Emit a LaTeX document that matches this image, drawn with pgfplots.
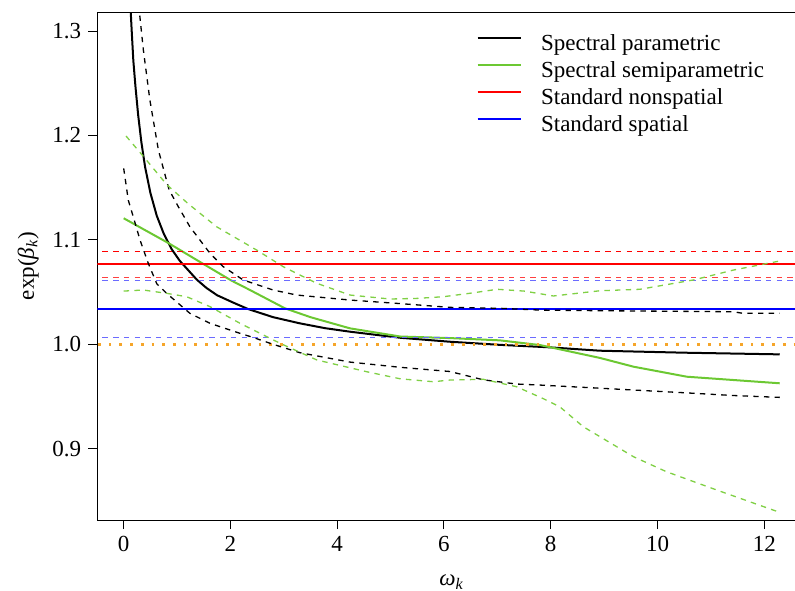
\documentclass[border=0pt]{standalone}
\usepackage{fontspec}
\setmainfont{Liberation Serif}
\usepackage{pgfplots}
\pgfplotsset{compat=1.18}
\usetikzlibrary{calc}
\definecolor{sgreen}{HTML}{6CC832}
\definecolor{lgreen}{HTML}{80D045}
\definecolor{lblue}{HTML}{6B6BFF}
\definecolor{rorange}{HTML}{F5A52A}

\begin{document}
\begin{tikzpicture}
\begin{axis}[
  scale only axis,
  width=348.85pt, height=254pt,
  xmin=-0.4946, xmax=12.576,
  ymin=0.8318, ymax=1.3182,
  axis x line*=box, axis y line*=left,
  axis line style={line width=0.5pt},
  xtick={0,2,4,6,8,10,12},
  ytick={0.9,1.0,1.1,1.2,1.3},
  xtick pos=left, ytick pos=left,
  tick align=outside,
  major tick length=4.5pt,
  tick style={black, line width=0.5pt},
  font=\fontsize{11.5}{13.5}\selectfont,
  /pgf/number format/assume math mode=true,
  yticklabel style={/pgf/number format/.cd, fixed, fixed zerofill, precision=1},
  xlabel={\textit{ω}\textsubscript{\textit{k}}},
  ylabel={exp(\textit{β}\textsubscript{\textit{k}})},
  xlabel style={at={(rel axis cs:0.508,-0.1293)}, anchor=base},
  ylabel style={at={(rel axis cs:-0.099,0.5)}, anchor=center},
  legend style={draw=none, fill=none, at={(rel axis cs:0.5432,0.9626)},
    anchor=north west, inner sep=0pt, row sep=0pt,
    nodes={inner sep=0pt, text height=9.5pt, text depth=4pt},
    /tikz/every odd column/.append style={column sep=9.7pt},
    font=\fontsize{11.5}{13.5}\selectfont},
  legend cell align=left,
  legend image code/.code={\draw[#1] (0pt,3.5pt) -- (21.5pt,3.5pt);},
]
% solid estimates
\addplot[black, line width=1pt] coordinates {
 (0.12,1.330) (0.15,1.300) (0.18,1.272) (0.22,1.247) (0.27,1.220)
 (0.33,1.194) (0.40,1.170) (0.50,1.145) (0.62,1.123) (0.75,1.106)
 (0.90,1.091) (1.05,1.080) (1.2,1.0715) (1.368,1.062) (1.55,1.054)
 (1.75,1.047) (2.05,1.040) (2.33,1.0338) (2.8,1.026) (3.30,1.0201)
 (3.77,1.0155) (4.24,1.0121) (5.18,1.0063) (6.11,1.0025) (7.05,0.9995)
 (7.99,0.9971) (8.92,0.9939) (10.5,0.992) (12.29,0.9904)};
\addlegendentry{Spectral parametric}
\addplot[sgreen, line width=1pt] coordinates {
 (0,1.1207) (0.836,1.097) (1.504,1.0766) (2.02,1.061) (2.366,1.052)
 (3.02,1.0345) (3.5,1.026) (4.24,1.0153) (5.18,1.0075) (6.11,1.0060)
 (7.05,1.0038) (7.8,0.9993) (8.92,0.9870) (9.55,0.9786) (10.55,0.969)
 (12.29,0.9627)};
\addlegendentry{Spectral semiparametric}
\addplot[red, line width=1pt] coordinates {(-1,1.0766) (13,1.0766)};
\addlegendentry{Standard nonspatial}
\addplot[blue, line width=1pt] coordinates {(-1,1.0338) (13,1.0338)};
\addlegendentry{Standard spatial}
% intervals
\addplot[red, line width=0.65pt, dash pattern=on 2.7pt off 2.65pt, forget plot]
  coordinates {(-1,1.0891) (13,1.0891)};
\addplot[red!75, line width=0.65pt, dash pattern=on 2.7pt off 2.65pt, forget plot]
  coordinates {(-1,1.0638) (13,1.0638)};
\addplot[lblue, line width=0.65pt, dash pattern=on 2.7pt off 2.65pt, forget plot]
  coordinates {(-1,1.0609) (13,1.0609)};
\addplot[lblue, line width=0.65pt, dash pattern=on 2.7pt off 2.65pt, forget plot]
  coordinates {(-1,1.0063) (13,1.0063)};
\addplot[rorange, line width=1.35pt, dash pattern=on 1.35pt off 4pt, forget plot]
  coordinates {(-0.48,1.0) (13,1.0)};
\addplot[black, line width=0.65pt, dash pattern=on 2.7pt off 2.65pt, forget plot] coordinates {
 (0.28,1.325) (0.368,1.282) (0.49,1.234) (0.65,1.186) (0.85,1.148)
 (1.023,1.1318) (1.24,1.1126) (1.617,1.0871) (1.866,1.0743) (2.24,1.0616)
 (2.80,1.052) (3.24,1.0472) (4.24,1.0424) (5.18,1.0390) (6.11,1.0354)
 (7.05,1.0345) (7.80,1.0328) (8.92,1.0322) (11.42,1.0312) (11.6,1.0297)
 (12.29,1.0297)};
\addplot[black, line width=0.65pt, dash pattern=on 2.7pt off 2.65pt, forget plot] coordinates {
 (0,1.1685) (0.086,1.138) (0.18,1.122) (0.305,1.100) (0.46,1.0776)
 (0.62,1.058) (0.805,1.0488) (1.24,1.0297) (1.617,1.0201) (2.18,1.0105)
 (2.4,1.007) (2.8,1.000) (3.30,0.992) (4.24,0.983) (5.18,0.978)
 (6.11,0.974) (6.74,0.966) (7.36,0.962) (7.80,0.961) (8.92,0.958)
 (10.48,0.9537) (11.42,0.951) (12.29,0.9492)};
\addplot[lgreen, line width=0.65pt, dash pattern=on 2.7pt off 2.65pt, forget plot] coordinates {
 (0.043,1.1995) (0.4,1.178) (0.805,1.153) (1.2,1.135) (1.74,1.1126)
 (2.49,1.0903) (2.99,1.0743) (3.30,1.0664) (3.62,1.0584) (4.24,1.0472)
 (4.99,1.0434) (5.5,1.044) (5.99,1.0456) (6.5,1.049) (7.0,1.0527)
 (7.5,1.051) (8.05,1.0463) (8.92,1.0513) (9.67,1.0527) (10.67,1.0616)
 (11.42,1.0711) (12.29,1.0798)};
\addplot[lgreen, line width=0.65pt, dash pattern=on 2.7pt off 2.65pt, forget plot] coordinates {
 (0,1.051) (0.37,1.052) (0.81,1.0488) (1.18,1.0456) (1.62,1.036)
 (2.18,1.0201) (2.68,1.0073) (2.93,1.001) (3.62,0.985) (4.55,0.9738)
 (5.18,0.967) (5.80,0.9642) (6.11,0.9658) (6.74,0.9665) (7.36,0.9594)
 (7.86,0.948) (8.17,0.9402) (8.61,0.9211) (9.55,0.8924) (10.17,0.878)
 (11.11,0.8605) (12.29,0.8391)};
\end{axis}
\pgfresetboundingbox
\path[use as bounding box] ($(current axis.south west)+(-48.65pt,-35pt)$)
  rectangle ($(current axis.north east)+(0pt,6pt)$);
\end{tikzpicture}
\end{document}
